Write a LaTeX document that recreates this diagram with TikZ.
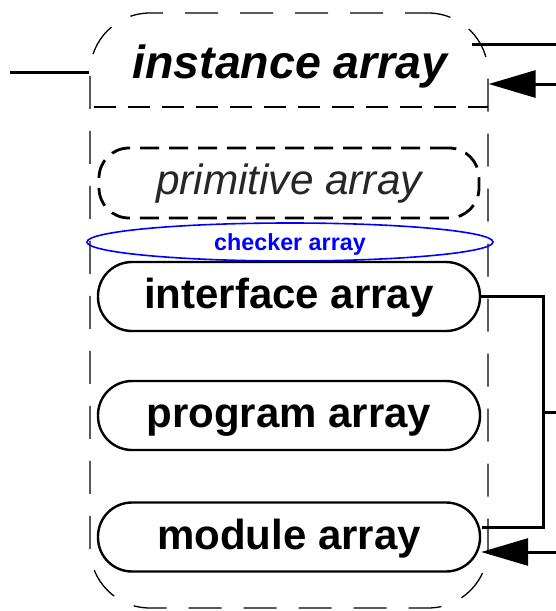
\documentclass[tikz,border=0pt]{standalone}
\usepackage{fontspec}
\setmainfont{Liberation Sans}
\usetikzlibrary{arrows.meta,shapes.geometric,calc}
\tikzset{
  arrbox/.style={draw, line width=2.4pt, rounded corners=34pt, minimum width=382pt, minimum height=69pt,
    inner sep=0pt, font=\fontsize{42}{48}\selectfont\bfseries, text height=30pt, text depth=6pt},
  conn/.style={line width=3pt},
  bigarrow/.style={line width=3pt, -{Triangle[length=47pt,width=27pt]}},
}
\begin{document}
\begin{tikzpicture}[x=1pt,y=-1pt]
\useasboundingbox (0,0) rectangle (556,611);
% outer container
\node[draw, line width=1.3pt, dash pattern=on 33pt off 22pt, dash phase=10pt, rounded corners=60pt,
      minimum width=398pt, minimum height=595pt, inner sep=0pt] (outer) at (289,310.5) {};
\node[font=\fontsize{46.5}{52}\selectfont\bfseries\itshape, inner sep=0pt, text height=33pt, text depth=3pt] (title) at (290,63) {instance array};
\coordinate (sepL) at (90,107);
\coordinate (sepR) at (488,107);
\draw[line width=1.3pt, dash pattern=on 22pt off 12pt, dash phase=-4pt] (sepL) -- (sepR);
% primitive array
\node[draw, line width=2.8pt, dash pattern=on 19pt off 10pt, rounded corners=30pt, minimum width=380pt, minimum height=70pt,
      inner sep=0pt, font=\fontsize{42.3}{48}\selectfont\itshape, text height=30pt, text depth=8pt, text=black!85] (prim) at (289,183) {primitive array};
% checker array
\node[draw=blue, line width=1.6pt, ellipse, minimum width=406pt, minimum height=38pt, inner sep=0pt,
      text=blue, font=\fontsize{23.3}{26}\selectfont\bfseries, text height=16.5pt, text depth=0.5pt] (check) at (290,242) {checker array};
% arrays
\node[arrbox] (iface) at (289,296.5) {interface array};
\node[arrbox] (prog) at (289,415.5) {program array};
\node[arrbox] (module) at (289,537) {module array};
% connectors
\coordinate (inL) at (10,72);
\draw[conn] (inL) -- (inL -| outer.west);
\coordinate (outTR) at (472,44);
\coordinate (outTRe) at (556,44);
\draw[conn] (outTR) -- (outTRe);
\coordinate (inR) at (556,84);
\draw[bigarrow] (inR) -- (inR -| outer.east);
\coordinate (bus) at (543,412);
\coordinate (busE) at (556,412);
\draw[conn] (iface.east) -| (bus) |- ($(module.east)+(1,-10)$);
\draw[conn] (bus) -- (busE);
\coordinate (mR) at (556,552);
\draw[bigarrow] (mR) -- (mR -| module.east);
\end{tikzpicture}
\end{document}
